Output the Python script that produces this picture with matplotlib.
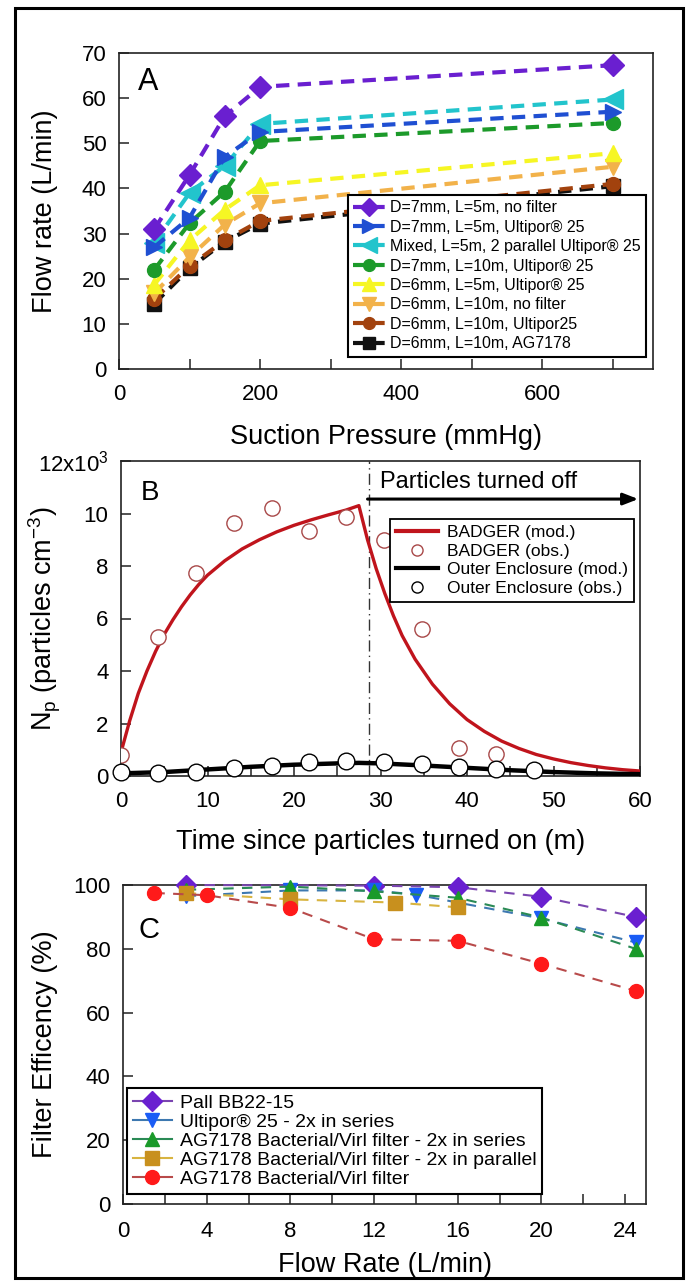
import matplotlib
matplotlib.use("Agg")
import matplotlib.pyplot as plt
from matplotlib.lines import Line2D
from matplotlib.patches import Rectangle
from matplotlib.ticker import MultipleLocator, FixedLocator, FixedFormatter

plt.rcParams['font.family'] = ['Liberation Sans', 'DejaVu Sans']
plt.rcParams['mathtext.fontset'] = 'custom'
plt.rcParams['mathtext.rm'] = 'Liberation Sans'
plt.rcParams['mathtext.it'] = 'Liberation Sans:italic'

# ---------------- Panel A data ----------------
pressure = [50, 100, 150, 200, 700]
a_labels = ["D=7mm, L=5m, no filter", "D=7mm, L=5m, Ultipor\u00ae 25",
            "Mixed, L=5m, 2 parallel Ultipor\u00ae 25", "D=7mm, L=10m, Ultipor\u00ae 25",
            "D=6mm, L=5m, Ultipor\u00ae 25", "D=6mm, L=10m, no filter",
            "D=6mm, L=10m, Ultipor25", "D=6mm, L=10m, AG7178"]
flow_d7_l5_nofilter = [31, 43, 56, 62.5, 67.3]
flow_d7_l5_ultipor = [27, 33.5, 47, 52.5, 57]
flow_mixed_l5_2par = [28, 39, 45, 54.3, 59.7]
flow_d7_l10_ultipor = [22, 32.3, 39.3, 50.5, 54.5]
flow_d6_l5_ultipor = [18.7, 28.5, 35.3, 40.7, 47.8]
flow_d6_l10_nofilter = [16.8, 24.8, 32, 36.7, 44.8]
flow_d6_l10_ultipor25 = [15.5, 22.8, 28.5, 32.8, 41]
flow_d6_l10_ag7178 = [14.5, 22.3, 28.2, 32.2, 40.5]

# ---------------- Panel B data ----------------
t_badger_mod = [0, 1, 2, 3, 4, 5, 6, 7, 8, 9, 10, 12, 14, 16, 18, 20, 22, 24, 26, 27.5,
                28.5, 29.5, 30.5, 31.5, 32.5, 34, 36, 38, 40, 42, 44, 46, 48, 50, 52,
                54, 56, 58, 60]
n_badger_mod = [900, 2100, 3150, 4000, 4750, 5400, 5950, 6450, 6900, 7300, 7650, 8200,
                8650, 9000, 9300, 9550, 9760, 9950, 10130, 10300,
                9000, 7900, 6950, 6100, 5350, 4450, 3500, 2750, 2150, 1700, 1330, 1050,
                820, 650, 510, 400, 310, 240, 190]
t_badger_obs = [0, 4.3, 8.7, 13.1, 17.4, 21.7, 26.0, 30.4, 34.8, 39.1, 43.4]
n_badger_obs = [800, 5300, 7730, 9650, 10200, 9350, 9850, 9000, 5600, 1050, 850]
t_outer_mod = [0, 5, 10, 15, 20, 25, 27.5, 30, 35, 40, 45, 50, 55, 60]
n_outer_mod = [100, 150, 250, 350, 430, 480, 500, 480, 400, 310, 220, 150, 100, 70]
t_outer_obs = [0, 4.3, 8.7, 13.1, 17.4, 21.7, 26.0, 30.4, 34.8, 39.1, 43.4, 47.8]
n_outer_obs = [150, 110, 150, 300, 400, 550, 570, 520, 450, 350, 270, 210]
t_off = 28.7
b_labels = ["BADGER (mod.)", "BADGER (obs.)", "Outer Enclosure (mod.)", "Outer Enclosure (obs.)"]

# ---------------- Panel C data ----------------
c_labels = ["Pall BB22-15", "Ultipor\u00ae 25 - 2x in series",
            "AG7178 Bacterial/Virl filter - 2x in series",
            "AG7178 Bacterial/Virl filter - 2x in parallel",
            "AG7178 Bacterial/Virl filter"]
q_pall = [3, 12, 16, 20, 24.5]
eff_pall = [100, 99.8, 99.3, 96.3, 90]
q_ult = [3, 8, 12, 14, 20, 24.5]
eff_ult = [96.5, 98.3, 98.3, 97, 89.5, 82]
q_ag_ser = [3, 8, 12, 16, 20, 24.5]
eff_ag_ser = [98.5, 99.5, 98, 96, 89.8, 80]
q_ag_par = [3, 8, 13, 16]
eff_ag_par = [97.5, 95.5, 94.5, 93]
q_ag = [1.5, 4, 8, 12, 16, 20, 24.5]
eff_ag = [97.5, 96.8, 92.8, 83, 82.5, 75.3, 66.8]

W, H = 688, 1283
fig = plt.figure(figsize=(W / 100, H / 100), dpi=100)

def axes_px(left, top, right, bottom):
    return fig.add_axes([left / W, 1 - bottom / H, (right - left) / W, (bottom - top) / H])

TICK = 16
LAB = 19.5

def style_axes(ax):
    for s in ax.spines.values():
        s.set_linewidth(1.2)
        s.set_color('#222222')
    ax.tick_params(which='both', direction='in', length=7, width=1.1, color='#222222',
                   labelsize=TICK, pad=9)

# ---------------- Panel A ----------------
axA = axes_px(119, 53, 653, 369)
style_axes(axA)
a_series = [flow_d7_l5_nofilter, flow_d7_l5_ultipor, flow_mixed_l5_2par, flow_d7_l10_ultipor,
            flow_d6_l5_ultipor, flow_d6_l10_nofilter, flow_d6_l10_ultipor25, flow_d6_l10_ag7178]
a_colors = ['#6a1fd0', '#1f4fd2', '#22c4cc', '#1c9a2a', '#f6f624', '#f2b24a', '#a2420e', '#111111']
a_markers = ['D', '>', '<', 'o', '^', 'v', 'o', 's']
a_ms = [11, 12, 14, 10, 12, 12, 10, 10]
handles = []
for i in reversed(range(8)):
    axA.plot(pressure, a_series[i], color=a_colors[i], marker=a_markers[i],
             ms=a_ms[i], lw=3, dashes=(3.2, 2.0), mec=a_colors[i], zorder=3 + (8 - i) * 0.01)
for i in range(8):
    handles.append(Line2D([], [], color=a_colors[i], marker=a_markers[i], ms=a_ms[i] * 0.85,
                          lw=3, dashes=(3.2, 1.2), mec=a_colors[i]))
axA.set_xlim(0, 757)
axA.set_ylim(0, 70)
axA.xaxis.set_major_locator(MultipleLocator(200))
axA.xaxis.set_minor_locator(MultipleLocator(100))
axA.yaxis.set_major_locator(MultipleLocator(10))
axA.tick_params(axis='x', pad=11)
axA.set_xlabel("Suction Pressure (mmHg)", fontsize=LAB)
axA.xaxis.set_label_coords(0.5, -(437 - 369) / 316)
axA.xaxis.label.set_va('center')
axA.set_ylabel("Flow rate (L/min)", fontsize=LAB)
axA.yaxis.set_label_coords(-(119 - 45) / 534, 0.5)
axA.yaxis.label.set_va('center')
axA.text(0.036, 0.883, "A", transform=axA.transAxes, fontsize=22, va='baseline', ha='left')
legA = axA.legend(handles, a_labels, loc='lower right', bbox_to_anchor=(0.987, 0.038),
                  fontsize=11.5, frameon=True, fancybox=False, framealpha=1, edgecolor='black',
                  borderpad=0.35, labelspacing=0.28, handlelength=2.0, handletextpad=0.3,
                  borderaxespad=0)
legA.get_frame().set_linewidth(1.5)
legA.set_zorder(10)

# ---------------- Panel B ----------------
axB = axes_px(121, 461, 640, 776)
style_axes(axB)
axB.plot(t_badger_mod, n_badger_mod, color='#c0141c', lw=2.4, zorder=3)
axB.plot(t_badger_obs, n_badger_obs, ls='none', marker='o', ms=11, mfc='white',
         mec='#a84848', mew=1.0, zorder=4)
axB.plot(t_outer_mod, n_outer_mod, color='black', lw=3.2, zorder=3)
axB.plot(t_outer_obs, n_outer_obs, ls='none', marker='o', ms=12, mfc='white',
         mec='black', mew=1.0, zorder=5, clip_on=False)
axB.axvline(t_off, color='#333333', lw=1.0, ls=(0, (8, 3, 1, 3)), zorder=2)
axB.annotate("", xy=(59.8, 10550), xytext=(t_off - 0.2, 10550),
             arrowprops=dict(arrowstyle='-|>,head_length=0.9,head_width=0.35', color='black',
                             lw=2.2, shrinkA=0, shrinkB=0))
axB.text(29.9, 11200, "Particles turned off", fontsize=17, va='center', ha='left')
axB.set_xlim(0, 60)
axB.set_ylim(0, 12000)
axB.xaxis.set_major_locator(MultipleLocator(10))
axB.xaxis.set_minor_locator(MultipleLocator(5))
b_yticks = [0, 2000, 4000, 6000, 8000, 10000, 12000]
b_yticklabels = ["0", "2", "4", "6", "8", "10", "12x10$^3$"]
axB.yaxis.set_major_locator(FixedLocator(b_yticks))
axB.yaxis.set_major_formatter(FixedFormatter(b_yticklabels))
axB.tick_params(axis='x', pad=11)
axB.set_xlabel("Time since particles turned on (m)", fontsize=LAB)
axB.xaxis.set_label_coords(0.5, -(842 - 776) / 315)
axB.xaxis.label.set_va('center')
axB.set_ylabel("N$_\\mathregular{p}$ (particles cm$^{-3}$)", fontsize=LAB)
axB.yaxis.set_label_coords(-(121 - 45) / 519, 0.5)
axB.yaxis.label.set_va('center')
axB.text(0.0385, 0.876, "B", transform=axB.transAxes, fontsize=20, va='baseline', ha='left')
hB = [Line2D([], [], color='#c0141c', lw=3),
      Line2D([], [], ls='none', marker='o', ms=8, mfc='white', mec='#a84848', mew=1.0),
      Line2D([], [], color='black', lw=3),
      Line2D([], [], ls='none', marker='o', ms=8, mfc='white', mec='black', mew=1.0)]
legB = axB.legend(hB, b_labels, loc='upper right', bbox_to_anchor=(0.988, 0.816),
                  fontsize=12.5, frameon=True, fancybox=False, framealpha=1, edgecolor='black',
                  borderpad=0.35, labelspacing=0.2, handlelength=2.4, handletextpad=0.5,
                  borderaxespad=0)
legB.get_frame().set_linewidth(1.3)
legB.set_zorder(10)

# ---------------- Panel C ----------------
axC = axes_px(123, 885, 646, 1204)
style_axes(axC)
c_series = [(q_pall, eff_pall), (q_ult, eff_ult), (q_ag_ser, eff_ag_ser),
            (q_ag_par, eff_ag_par), (q_ag, eff_ag)]
c_mcolors = ['#6a1fd0', '#1a5cf5', '#1a9a2a', '#c8901e', '#ff1a1a']
c_lcolors = ['#7a45b0', '#3d78b0', '#2a8a55', '#d8b440', '#b84a4a']
c_markers = ['D', 'v', '^', 's', 'o']
c_ms = [10, 10, 10, 10, 10]
for i in [3, 4, 2, 1, 0]:
    q, e = c_series[i]
    axC.plot(q, e, color=c_lcolors[i], lw=1.5, dashes=(5, 4), marker=c_markers[i],
             ms=c_ms[i], mfc=c_mcolors[i], mec=c_mcolors[i], clip_on=False, zorder=3 + i * 0.01)
hC = [Line2D([], [], color=c_lcolors[i], lw=1.5, marker=c_markers[i], ms=c_ms[i],
             mfc=c_mcolors[i], mec=c_mcolors[i]) for i in range(5)]
axC.set_xlim(0, 25)
axC.set_ylim(0, 100)
axC.xaxis.set_major_locator(MultipleLocator(4))
axC.xaxis.set_minor_locator(MultipleLocator(2))
axC.yaxis.set_major_locator(MultipleLocator(20))
axC.tick_params(axis='x', pad=12)
axC.set_xlabel("Flow Rate (L/min)", fontsize=LAB)
axC.xaxis.set_label_coords(0.5, -(1265 - 1204) / 319)
axC.xaxis.label.set_va('center')
axC.set_ylabel("Filter Efficency (%)", fontsize=LAB)
axC.yaxis.set_label_coords(-(123 - 45) / 523, 0.5)
axC.yaxis.label.set_va('center')
axC.text(0.0287, 0.834, "C", transform=axC.transAxes, fontsize=21, va='baseline', ha='left')
legC = axC.legend(hC, c_labels, loc='lower left', bbox_to_anchor=(0.008, 0.031),
                  fontsize=14, frameon=True, fancybox=False, framealpha=1, edgecolor='black',
                  borderpad=0.3, labelspacing=0.08, handlelength=2.0, handletextpad=0.4,
                  borderaxespad=0)
legC.get_frame().set_linewidth(1.5)
legC.set_zorder(10)

# outer frame
fig.add_artist(Rectangle((15 / W, 1 - 1278 / H), (683 - 15) / W, (1278 - 8) / H,
                         transform=fig.transFigure, fill=False, lw=2.2, ec='black'))

fig.savefig("out.png", dpi=100)
